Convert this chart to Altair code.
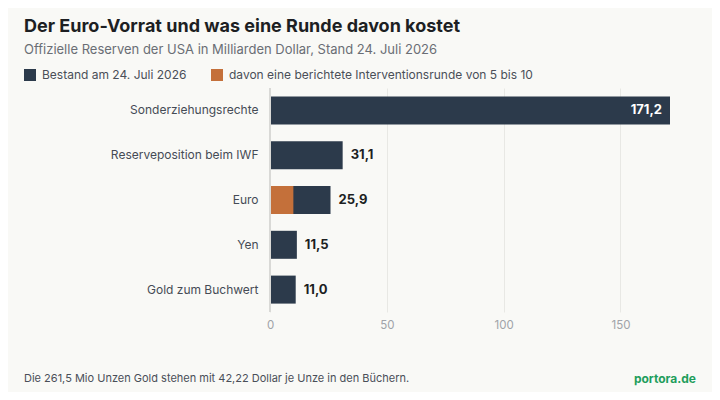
import altair as alt
import pandas as pd

categories = ["Sonderziehungsrechte", "Reserveposition beim IWF", "Euro", "Yen", "Gold zum Buchwert"]
bestand = [171.2, 31.1, 25.9, 11.5, 11.0]
runde_kategorie = ["Euro"]
runde_wert = [10.0]
series = ["Bestand am 24. Juli 2026", "davon eine berichtete Interventionsrunde von 5 bis 10"]
colors = ["#2c3a4b", "#c4703a"]
x_ticks = [0, 50, 100, 150]

title = "Der Euro-Vorrat und was eine Runde davon kostet"
subtitle = "Offizielle Reserven der USA in Milliarden Dollar, Stand 24. Juli 2026"
footer = "Die 261,5 Mio Unzen Gold stehen mit 42,22 Dollar je Unze in den Büchern."
source = "portora.de"

FONT = "Inter"

rows = [{"cat": c, "series": series[0], "v": v} for c, v in zip(categories, bestand)]
rows += [{"cat": c, "series": series[1], "v": v} for c, v in zip(runde_kategorie, runde_wert)]
df = pd.DataFrame(rows)
tot = pd.DataFrame({"cat": categories, "v": bestand})

xscale = alt.Scale(domain=[0, max(bestand)], nice=False, zero=True)
yscale = alt.Scale(domain=categories, paddingInner=0.375, paddingOuter=0.1875)

base_y = alt.Y("cat:N", scale=yscale, sort=categories,
               axis=alt.Axis(title=None, ticks=False, domain=False, labelPadding=12,
                             labelFontSize=12, labelColor="#454b55", labelFont=FONT))

bars = alt.Chart(df).mark_bar().encode(
    x=alt.X("v:Q", scale=xscale, stack=None,
            axis=alt.Axis(title=None, values=x_ticks, ticks=False, domain=False,
                          grid=True, gridColor="#e8e8e4", gridWidth=1,
                          labelColor="#a0a3a8", labelFontSize=11.5, labelPadding=7,
                          labelFlush=False, labelFont=FONT)),
    y=base_y,
    color=alt.Color("series:N", scale=alt.Scale(domain=series, range=colors),
                    legend=alt.Legend(title=None, orient="none", direction="horizontal",
                                      legendX=-246, legendY=-19, symbolType="square",
                                      symbolSize=144, symbolStrokeWidth=0,
                                      symbolOpacity=1, labelFontSize=12,
                                      labelColor="#4a4f58", labelFont=FONT,
                                      labelLimit=500,
                                      columnPadding=24, labelOffset=6)),
)

zero = alt.Chart(pd.DataFrame({"z": [0]})).mark_rule(color="#d9d9d6", strokeWidth=2).encode(
    x=alt.X("z:Q", scale=xscale)
)

lab = alt.Chart(tot).transform_calculate(
    lbl="replace(format(datum.v, '.1f'), '.', ',')"
)

outside = lab.transform_filter("datum.v < 100").mark_text(
    align="left", dx=8, fontSize=13, fontWeight="bold", color="#1d1f23", font=FONT
).encode(x=alt.X("v:Q", scale=xscale), y=alt.Y("cat:N", scale=yscale, sort=categories), text="lbl:N")

inside = lab.transform_filter("datum.v >= 100").mark_text(
    align="right", dx=-8, fontSize=13, fontWeight="bold", color="#ffffff", font=FONT
).encode(x=alt.X("v:Q", scale=xscale), y=alt.Y("cat:N", scale=yscale, sort=categories), text="lbl:N")

foot = alt.Chart(pd.DataFrame({"t": [footer]})).mark_text(
    align="left", baseline="middle", fontSize=11, color="#4a4f58", font=FONT
).encode(x=alt.value(-246), y=alt.value(291), text="t:N")

src = alt.Chart(pd.DataFrame({"t": [source]})).mark_text(
    align="right", baseline="middle", fontSize=12, fontWeight="bold", color="#1f9e5c", font=FONT
).encode(x=alt.value(426), y=alt.value(291), text="t:N")

chart = alt.layer(bars, zero, outside, inside, foot, src).properties(
    width=400, height=224,
    autosize=alt.AutoSizeParams(type="none"),
    padding={"left": 262, "top": 80, "right": 42, "bottom": 80},
    title=alt.Title(title, subtitle=subtitle, anchor="start", frame="group", dx=-246,
                    font=FONT, fontSize=18, fontWeight="bold", color="#1d1f23",
                    subtitleFont=FONT, subtitleFontSize=13, subtitleColor="#6a6e75",
                    subtitlePadding=8, offset=12),
).configure(background="#f9f9f6").configure_view(stroke=None)

chart.save("out.html", embed_options={"renderer": "svg", "actions": False})
